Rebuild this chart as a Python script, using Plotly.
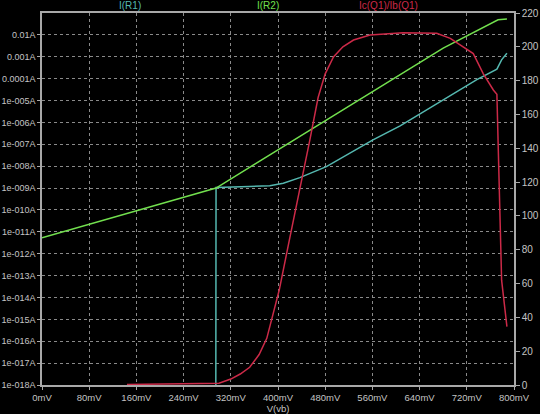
import plotly.graph_objects as go

# ---- data ----
# I(R2): green, left log axis (A) vs V(vb) in mV
vb_r2 = [0, 295, 680, 773, 788]
i_r2 = [5.4e-12, 1.0e-9, 2.5e-3, 4.9e-2, 5.25e-2]

# I(R1): teal, left log axis (A)
vb_r1 = [294.5, 295, 352, 386, 409, 437, 482, 522, 561, 607, 663, 697, 737, 771, 779, 788]
i_r1 = [1e-20, 1.05e-9, 1.17e-9, 1.29e-9, 1.66e-9, 3.0e-9, 9.5e-9, 3.9e-8, 1.58e-7,
        7.0e-7, 5.5e-6, 2.0e-5, 9.0e-5, 2.7e-4, 7.2e-4, 1.45e-3]

# Ic(Q1)/Ib(Q1): red, right linear axis
vb_beta = [144, 200, 260, 300, 320, 336, 352, 368, 381, 389, 402, 420, 443, 454, 468,
           480, 494, 510, 528, 556, 612, 669, 692, 710, 731, 748, 765, 771, 773, 776, 779, 788]
beta = [0.3, 0.4, 0.6, 1.0, 3.5, 6.5, 10.5, 18, 27.6, 38, 56, 87, 125, 145, 170,
        184, 194, 200, 204, 207, 208.3, 208, 205, 201, 196, 184, 174.5, 172, 145, 92, 62, 34.5]

x_ticks = [0, 80, 160, 240, 320, 400, 480, 560, 640, 720, 800]
x_ticktext = ["0mV", "80mV", "160mV", "240mV", "320mV", "400mV", "480mV", "560mV", "640mV", "720mV", "800mV"]
y_ticks = [1e-18, 1e-17, 1e-16, 1e-15, 1e-14, 1e-13, 1e-12, 1e-11, 1e-10, 1e-9,
           1e-8, 1e-7, 1e-6, 1e-5, 1e-4, 1e-3, 1e-2]
y_ticktext = ["1e-018A", "1e-017A", "1e-016A", "1e-015A", "1e-014A", "1e-013A", "1e-012A",
              "1e-011A", "1e-010A", "1e-009A", "1e-008A", "1e-007A", "1e-006A", "1e-005A",
              "0.0001A", "0.001A", "0.01A"]
y2_ticks = [0, 20, 40, 60, 80, 100, 120, 140, 160, 180, 200, 220]

trace_names = ["I(R1)", "I(R2)", "Ic(Q1)/Ib(Q1)"]
colors = ["#55b8b0", "#72e04e", "#cc2a48"]

fig = go.Figure()
fig.add_trace(go.Scatter(x=vb_r1, y=i_r1, mode="lines", name=trace_names[0],
                         line=dict(color=colors[0], width=1.5)))
fig.add_trace(go.Scatter(x=vb_r2, y=i_r2, mode="lines", name=trace_names[1],
                         line=dict(color=colors[1], width=1.5)))
fig.add_trace(go.Scatter(x=vb_beta, y=beta, mode="lines", name=trace_names[2], yaxis="y2",
                         line=dict(color=colors[2], width=1.5)))

axis_col = "#a8a8a8"
grid_col = "#8a8a8a"
fam = "Liberation Sans, Arial, sans-serif"
font = dict(family=fam, size=10, color="#c4c4c4")
leftfont = dict(family=fam, size=9, color="#c4c4c4")
xfont = dict(family=fam, size=9.5, color="#c4c4c4")

fig.update_layout(
    width=540, height=414,
    margin=dict(l=42, r=26, t=13, b=29),
    paper_bgcolor="black", plot_bgcolor="black",
    font=font, showlegend=False,
    xaxis=dict(range=[0, 800], tickvals=x_ticks, ticktext=x_ticktext, automargin=False,
               showgrid=True, gridcolor=grid_col, griddash="dot", gridwidth=1,
               showline=True, linecolor=axis_col, linewidth=1.5, mirror=True,
               ticks="outside", ticklen=3, tickcolor=axis_col, zeroline=False,
               tickfont=xfont, title=dict(text="V(vb)", font=xfont, standoff=0)),
    yaxis=dict(type="log", range=[-18, -1], tickvals=y_ticks, ticktext=y_ticktext,
               automargin=False, tickfont=leftfont,
               showgrid=True, gridcolor=grid_col, griddash="dot", gridwidth=1,
               showline=True, linecolor=axis_col, linewidth=1.5, mirror=True,
               ticks="outside", ticklen=3, tickcolor=axis_col, zeroline=False),
    yaxis2=dict(overlaying="y", side="right", range=[0, 220], tickvals=y2_ticks,
                automargin=False, tickfont=font,
                showgrid=False, showline=True, linecolor=axis_col, linewidth=1.5,
                ticks="outside", ticklen=4, tickcolor=axis_col, zeroline=False),
)

for name, col, xp in zip(trace_names, colors, [0.159, 0.479, 0.801]):
    fig.add_annotation(text=name, x=xp, xref="paper", y=1, yref="paper",
                       yanchor="bottom", showarrow=False,
                       font=dict(family=fam, size=10, color=col))

fig.write_html("out.html", config={"displayModeBar": False},
               post_script="document.body.style.margin='0';document.body.style.background='black';")
